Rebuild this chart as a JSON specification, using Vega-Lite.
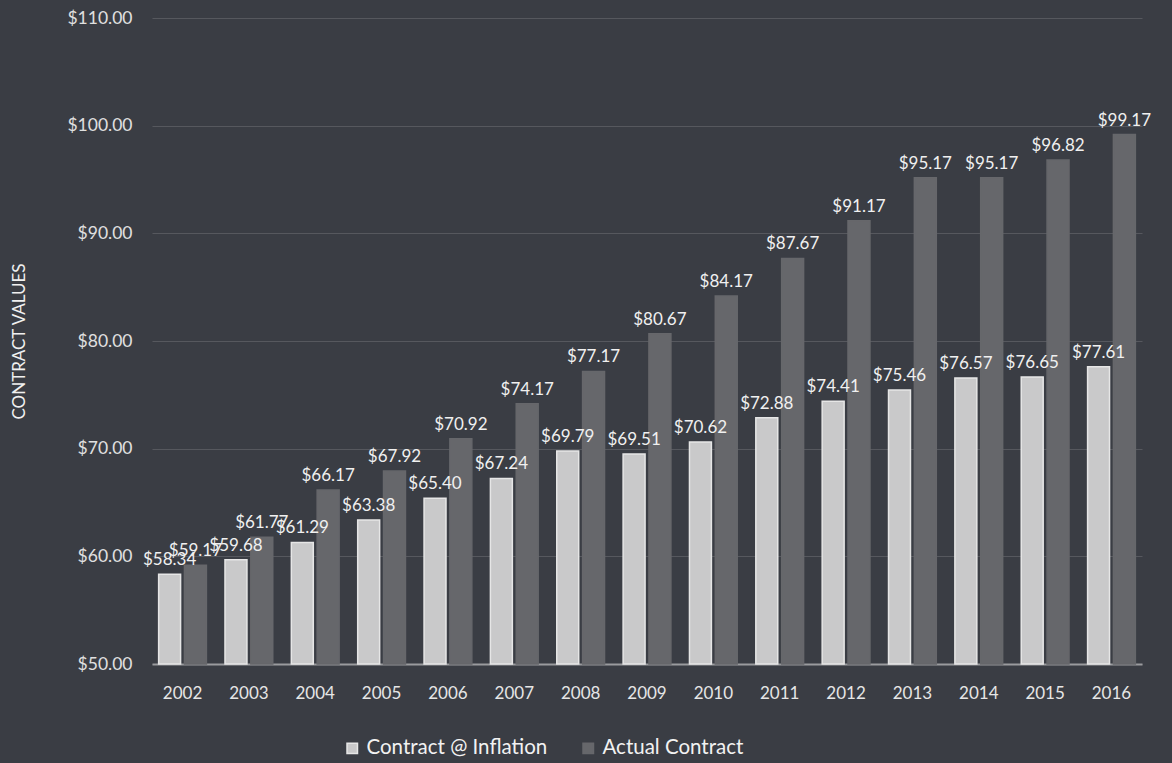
{
  "$schema": "https://vega.github.io/schema/vega-lite/v6.json",
  "width": 990,
  "height": 646,
  "padding": {"left": 10, "right": 20, "top": 9, "bottom": 5},
  "background": "#3a3d44",
  "config": {
    "view": {"stroke": null},
    "font": "Lato",
    "axis": {"labelFont": "Lato", "titleFont": "Lato"},
    "legend": {"labelFont": "Lato"}
  },
  "data": {
    "values": [
      {"year": "2002", "series": "Contract @ Inflation", "value": 58.34},
      {"year": "2002", "series": "Actual Contract", "value": 59.17},
      {"year": "2003", "series": "Contract @ Inflation", "value": 59.68},
      {"year": "2003", "series": "Actual Contract", "value": 61.77},
      {"year": "2004", "series": "Contract @ Inflation", "value": 61.29},
      {"year": "2004", "series": "Actual Contract", "value": 66.17},
      {"year": "2005", "series": "Contract @ Inflation", "value": 63.38},
      {"year": "2005", "series": "Actual Contract", "value": 67.92},
      {"year": "2006", "series": "Contract @ Inflation", "value": 65.40},
      {"year": "2006", "series": "Actual Contract", "value": 70.92},
      {"year": "2007", "series": "Contract @ Inflation", "value": 67.24},
      {"year": "2007", "series": "Actual Contract", "value": 74.17},
      {"year": "2008", "series": "Contract @ Inflation", "value": 69.79},
      {"year": "2008", "series": "Actual Contract", "value": 77.17},
      {"year": "2009", "series": "Contract @ Inflation", "value": 69.51},
      {"year": "2009", "series": "Actual Contract", "value": 80.67},
      {"year": "2010", "series": "Contract @ Inflation", "value": 70.62},
      {"year": "2010", "series": "Actual Contract", "value": 84.17},
      {"year": "2011", "series": "Contract @ Inflation", "value": 72.88},
      {"year": "2011", "series": "Actual Contract", "value": 87.67},
      {"year": "2012", "series": "Contract @ Inflation", "value": 74.41},
      {"year": "2012", "series": "Actual Contract", "value": 91.17},
      {"year": "2013", "series": "Contract @ Inflation", "value": 75.46},
      {"year": "2013", "series": "Actual Contract", "value": 95.17},
      {"year": "2014", "series": "Contract @ Inflation", "value": 76.57},
      {"year": "2014", "series": "Actual Contract", "value": 95.17},
      {"year": "2015", "series": "Contract @ Inflation", "value": 76.65},
      {"year": "2015", "series": "Actual Contract", "value": 96.82},
      {"year": "2016", "series": "Contract @ Inflation", "value": 77.61},
      {"year": "2016", "series": "Actual Contract", "value": 99.17}
    ]
  },
  "encoding": {
    "x": {
      "field": "year",
      "type": "nominal",
      "sort": null,
      "scale": {"paddingInner": 0.28, "paddingOuter": 0.1},
      "axis": {
        "title": null,
        "labelAngle": 0,
        "labelColor": "#e6e6e6",
        "labelFontSize": 17,
        "labelPadding": 21,
        "ticks": false,
        "domainColor": "#9a9b9e",
        "domainWidth": 2
      }
    },
    "xOffset": {
      "field": "series",
      "type": "nominal",
      "sort": ["Contract @ Inflation", "Actual Contract"],
      "scale": {"paddingInner": 0.15}
    },
    "y": {
      "field": "value",
      "type": "quantitative",
      "scale": {"domain": [50, 110], "zero": false, "nice": false},
      "axis": {
        "title": "CONTRACT VALUES",
        "titleColor": "#f0f0f0",
        "titleFontSize": 17,
        "titleFontWeight": "normal",
        "titlePadding": 38,
        "values": [50, 60, 70, 80, 90, 100, 110],
        "format": "$.2f",
        "labelColor": "#e0e0e0",
        "labelFontSize": 17.5,
        "labelPadding": 20,
        "ticks": false,
        "domain": false,
        "gridColor": "#56585e",
        "gridWidth": 1
      }
    }
  },
  "layer": [
    {
      "mark": {"type": "bar", "strokeWidth": 1.5},
      "encoding": {
        "y2": {"datum": 50},
        "color": {
          "field": "series",
          "type": "nominal",
          "sort": ["Contract @ Inflation", "Actual Contract"],
          "scale": {"domain": ["Contract @ Inflation", "Actual Contract"], "range": ["#c9c9ca", "#66676b"]},
          "legend": {
            "title": null,
            "orient": "none",
            "legendX": 190,
            "legendY": 720,
            "direction": "horizontal",
            "symbolType": "square",
            "symbolSize": 110,
            "labelColor": "#f2f2f2",
            "labelFontSize": 20.5,
            "labelLimit": 400,
            "columnPadding": 30
          }
        },
        "stroke": {
          "field": "series",
          "type": "nominal",
          "scale": {"domain": ["Contract @ Inflation", "Actual Contract"], "range": ["#e6e6e6", "#66676b"]},
          "legend": null
        }
      }
    },
    {
      "mark": {"type": "text", "dy": -14, "fontSize": 17, "color": "#f0f0f0"},
      "encoding": {
        "text": {"field": "value", "type": "quantitative", "format": "$.2f"}
      }
    }
  ]
}
